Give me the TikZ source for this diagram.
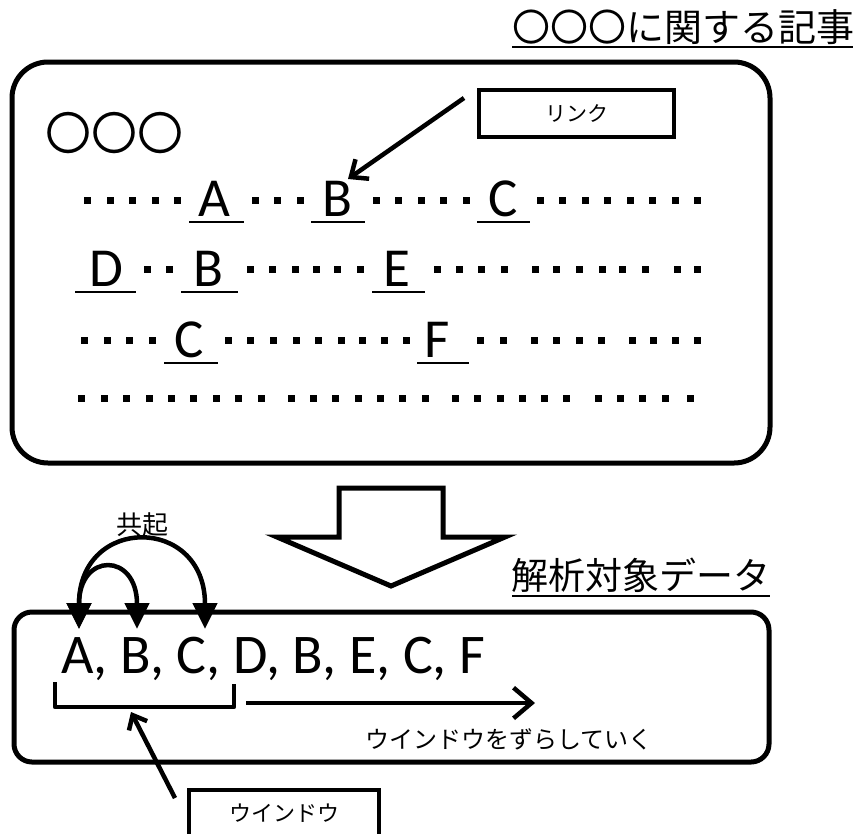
\documentclass[tikz,border=0pt]{standalone}
\usepackage{fontspec}
\setmainfont{Carlito}
\newfontfamily\jp{Noto Sans CJK JP}
\usetikzlibrary{arrows.meta}
\tikzset{
  frame/.style={draw, line width=5pt, rounded corners=#1},
  lbl/.style={inner sep=0pt, outer sep=0pt},
  jptext/.style={lbl, font={\jp\fontsize{#1}{#1}\selectfont}},
  letter/.style={lbl, anchor=base, font={\fontsize{55}{60}\selectfont}},
  uline/.style={line width=2.8pt},
  thick arrow/.style={line width=4.5pt, -{Straight Barb[length=#1,width=1.7*#1]}},
  arc arrow/.style={line width=4.5pt, {Triangle[length=26pt,width=24pt]}-{Triangle[length=26pt,width=24pt]}},
  labelbox/.style={draw, line width=4pt}
}
\newcommand{\dotrow}[2]{\foreach \x in {#2} \fill (\x-3.5,#1-3.5) rectangle +(7,7);}
\begin{document}
\begin{tikzpicture}[x=1pt,y=-1pt]
\useasboundingbox (0,0) rectangle (856,833);
\clip (0,0) rectangle (856,833);

% title
\node[jptext=38] (title) at (683,27) {〇〇〇に関する記事};
\draw[uline] (512,47) -- (853,47);

% article box
\draw[frame=36pt] (12,62) rectangle (770,463);
\node[jptext=46] (heading) at (114,133) {〇〇〇};

% link label
\node[labelbox, minimum width=195pt, minimum height=47pt, jptext=21] (link) at (576.5,113.5) {リンク};

% row 1
\dotrow{200}{87,110,132,155,177,255,277,300,376,398,421,443,466,540,562,585,607,630,652,675,697}
\node[letter] (r1A) at (214,216) {A};
\node[letter] (r1B) at (337,216) {B};
\node[letter] (r1C) at (503,216) {C};
\draw[uline] (189,222) -- (244,222);
\draw[uline] (311,222) -- (365,222);
\draw[uline] (477,222) -- (530,222);

% row 2
\dotrow{269}{147,169,250,272,295,316,337,360,437,459,481,504,535,556,579,602,622,645,677,697}
\node[letter] (r2D) at (106,286) {D};
\node[letter] (r2B) at (208,286) {B};
\node[letter] (r2E) at (397,286) {E};
\draw[uline] (75,292) -- (136,292);
\draw[uline] (181,292) -- (238,292);
\draw[uline] (372,292) -- (425,292);

% row 3
\dotrow{340}{84,107,129,152,228,250,273,296,318,341,362,384,406,480,503,534,556,579,601,632,653,675,697}
\node[letter] (r3C) at (189,357) {C};
\node[letter] (r3F) at (437,357) {F};
\draw[uline] (164,363) -- (218,363);
\draw[uline] (417,363) -- (469,363);

% row 4
\dotrow{398}{81,104,126,149,171,193,216,238,261,291,313,335,358,380,402,425,455,477,500,522,544,566,598,620,642,665,690}

% link arrow
\coordinate (linkstart) at (464,98);
\coordinate (linkend) at (348,179);
\draw[thick arrow=14pt] (linkstart) -- (linkend);

% block arrow
\draw[line width=5pt, line join=miter] (339,488) -- (443,488) -- (443,537) -- (505,537) -- (391,586) -- (277,537) -- (339,537) -- cycle;

% data label
\node[jptext=37] (datatitle) at (641,575) {解析対象データ};
\draw[uline] (512,596) -- (770,596);

% data box
\draw[frame=18pt] (14,612) rectangle (769,762);
\node[lbl, anchor=base west, font={\fontsize{56}{60}\selectfont}] (seq) at (61,673) {A, B, C, D, B, E, C, F};

% co-occurrence arcs
\coordinate (tipA) at (79,629);
\coordinate (tipB) at (137,629);
\coordinate (tipC) at (205,629);
\draw[arc arrow] (tipA) .. controls (79,515) and (205,515) .. (tipC);
\draw[arc arrow] (tipA) .. controls (79,552) and (137,552) .. (tipB);
\node[jptext=26] (kyoki) at (142,525) {共起};

% window bracket
\draw[line width=4.5pt, line join=round] (55,682) -- (55,707) -- (234,707) -- (234,684);
\coordinate (bracket) at (131,712);

% slide arrow
\coordinate (slidestart) at (246,703);
\coordinate (slideend) at (535,703);
\draw[thick arrow=18pt] (slidestart) -- (slideend);
\node[jptext=24] (slide) at (509,739) {ウインドウをずらしていく};

% window label
\draw[line width=4pt] (189,860) -- (189,790) -- (379,790) -- (379,860);
\node[jptext=22] (window) at (284,813) {ウインドウ};
\coordinate (winstart) at (175,798);
\draw[thick arrow=12pt] (winstart) -- (bracket);
\end{tikzpicture}
\end{document}
